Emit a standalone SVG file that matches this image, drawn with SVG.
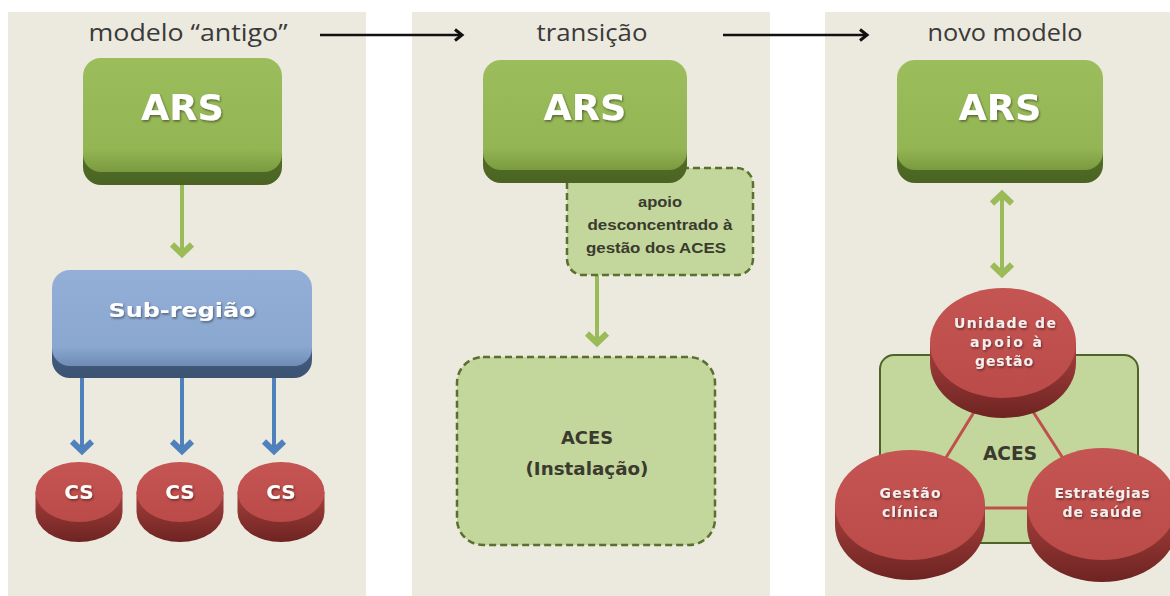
<svg xmlns="http://www.w3.org/2000/svg" width="1170" height="596" viewBox="0 0 1170 596">
<style>
  .panel{fill:#ECE9DF}
  .title{font-family:"Open Sans","Liberation Sans",sans-serif;font-size:23px;fill:#3A3A3A}
  .boxlbl{font-family:"DejaVu Sans","Liberation Sans",sans-serif;font-weight:bold;fill:#FFFFFF}
  .dark{font-family:"Liberation Sans",Arial,sans-serif;font-weight:bold;fill:#3A3A2E}
  .darkw{font-family:"DejaVu Sans","Liberation Sans",sans-serif;font-weight:bold;fill:#3A3A2E}
  .disclbl{font-family:"DejaVu Sans","Liberation Sans",sans-serif;font-weight:bold;font-size:14px;fill:#F4EEEE}
  .gArrow{stroke:#9BBB59;stroke-width:4;fill:none}
  .bArrow{stroke:#4F81BD;stroke-width:4;fill:none}
  .kArrow{stroke:#111111;stroke-width:2.5;fill:none}
  .dash{fill:#C3D69B;stroke:#5A7030;stroke-width:2.5;stroke-dasharray:7 4}
  .redface{fill:url(#gRedFace)}
  .redside{fill:url(#gRedSide)}
</style>
<defs>
  <linearGradient id="gGreenFace" x1="0" y1="0" x2="0" y2="1">
    <stop offset="0" stop-color="#9CBD5C"/>
    <stop offset="0.8" stop-color="#94B554"/>
    <stop offset="1" stop-color="#7A9A3F"/>
  </linearGradient>
  <linearGradient id="gGreenSide" x1="0" y1="0" x2="0" y2="1">
    <stop offset="0" stop-color="#6E8E38"/>
    <stop offset="1" stop-color="#4A6322"/>
  </linearGradient>
  <linearGradient id="gBlueFace" x1="0" y1="0" x2="0" y2="1">
    <stop offset="0" stop-color="#93AFD8"/>
    <stop offset="0.8" stop-color="#8AA7D0"/>
    <stop offset="1" stop-color="#6F8CB5"/>
  </linearGradient>
  <linearGradient id="gBlueSide" x1="0" y1="0" x2="0" y2="1">
    <stop offset="0" stop-color="#5C7AA2"/>
    <stop offset="1" stop-color="#3B5272"/>
  </linearGradient>
  <linearGradient id="gRedFace" x1="0" y1="0" x2="0" y2="1">
    <stop offset="0" stop-color="#C55552"/>
    <stop offset="1" stop-color="#BA4B48"/>
  </linearGradient>
  <linearGradient id="gRedSide" x1="0" y1="0" x2="0" y2="1">
    <stop offset="0" stop-color="#A6403D"/>
    <stop offset="1" stop-color="#6E2422"/>
  </linearGradient>
  <filter id="tshadow" x="-20%" y="-30%" width="140%" height="160%">
    <feDropShadow dx="1" dy="1.5" stdDeviation="0.8" flood-color="#000" flood-opacity="0.45"/>
  </filter>
  <marker id="mGreen" markerUnits="userSpaceOnUse" viewBox="-16 -16 24 32" markerWidth="24" markerHeight="32" refX="0" refY="0" orient="auto-start-reverse">
    <path d="M-9.5,-10 L0,0 L-9.5,10" fill="none" stroke="#9BBB59" stroke-width="6"/>
  </marker>
  <marker id="mBlue" markerUnits="userSpaceOnUse" viewBox="-16 -16 24 32" markerWidth="24" markerHeight="32" refX="0" refY="0" orient="auto">
    <path d="M-9.5,-10 L0,0 L-9.5,10" fill="none" stroke="#4F81BD" stroke-width="6"/>
  </marker>
  <marker id="mBlack" markerUnits="userSpaceOnUse" viewBox="-12 -10 16 20" markerWidth="16" markerHeight="20" refX="0" refY="0" orient="auto">
    <path d="M-7,-5.5 L0,0 L-7,5.5" fill="none" stroke="#111111" stroke-width="3"/>
  </marker>
</defs>

<rect width="1170" height="596" fill="#FFFFFF"/>
<g id="panels">
  <rect class="panel" x="8" y="12" width="358" height="584"/>
  <rect class="panel" x="412" y="12" width="358" height="584"/>
  <rect class="panel" x="825" y="12" width="345" height="584"/>
</g>

<g id="titles">
  <text class="title" x="188" y="41" text-anchor="middle" textLength="199" lengthAdjust="spacingAndGlyphs">modelo “antigo”</text>
  <text class="title" x="592" y="41" text-anchor="middle" textLength="111" lengthAdjust="spacingAndGlyphs">transição</text>
  <text class="title" x="1005" y="41" text-anchor="middle" textLength="155" lengthAdjust="spacingAndGlyphs">novo modelo</text>
</g>

<g id="connectors">
  <line class="kArrow" x1="320" y1="35" x2="462" y2="35" marker-end="url(#mBlack)"/>
  <line class="kArrow" x1="723" y1="35" x2="867" y2="35" marker-end="url(#mBlack)"/>
  <line class="gArrow" x1="182" y1="185" x2="182" y2="254" marker-end="url(#mGreen)"/>
  <line class="bArrow" x1="82" y1="378" x2="82" y2="451" marker-end="url(#mBlue)"/>
  <line class="bArrow" x1="182" y1="378" x2="182" y2="451" marker-end="url(#mBlue)"/>
  <line class="bArrow" x1="274" y1="378" x2="274" y2="451" marker-end="url(#mBlue)"/>
  <line class="gArrow" x1="597" y1="275" x2="597" y2="343" marker-end="url(#mGreen)"/>
  <line class="gArrow" x1="1002" y1="194" x2="1002" y2="274" marker-start="url(#mGreen)" marker-end="url(#mGreen)"/>
</g>

<!-- Panel 1 -->
<g id="ars1">
  <rect x="83" y="66" width="199" height="119" rx="18" fill="url(#gGreenSide)"/>
  <rect x="83" y="58" width="199" height="114" rx="18" fill="url(#gGreenFace)"/>
  <text class="boxlbl" x="182.5" y="120" font-size="35" text-anchor="middle" textLength="83" lengthAdjust="spacingAndGlyphs" filter="url(#tshadow)">ARS</text>
</g>
<g id="subregiao">
  <rect x="52" y="276" width="260" height="102" rx="18" fill="url(#gBlueSide)"/>
  <rect x="52" y="270" width="260" height="96" rx="18" fill="url(#gBlueFace)"/>
  <text class="boxlbl" x="182" y="317" font-size="20" text-anchor="middle" textLength="147" lengthAdjust="spacingAndGlyphs" fill="#F0F3F8" filter="url(#tshadow)">Sub-região</text>
</g>
<g id="cs1">
  <path class="redside" d="M35.5,492 L35.5,512 A43.5,30 0 0 0 122.5,512 L122.5,492 Z"/>
  <ellipse class="redface" cx="79" cy="492" rx="43.5" ry="30"/>
  <text class="boxlbl" x="79" y="499" font-size="20" text-anchor="middle" filter="url(#tshadow)">CS</text>
</g>
<g id="cs2">
  <path class="redside" d="M136.5,492 L136.5,512 A43.5,30 0 0 0 223.5,512 L223.5,492 Z"/>
  <ellipse class="redface" cx="180" cy="492" rx="43.5" ry="30"/>
  <text class="boxlbl" x="180" y="499" font-size="20" text-anchor="middle" filter="url(#tshadow)">CS</text>
</g>
<g id="cs3">
  <path class="redside" d="M237.5,492 L237.5,512 A43.5,30 0 0 0 324.5,512 L324.5,492 Z"/>
  <ellipse class="redface" cx="281" cy="492" rx="43.5" ry="30"/>
  <text class="boxlbl" x="281" y="499" font-size="20" text-anchor="middle" filter="url(#tshadow)">CS</text>
</g>

<!-- Panel 2 -->
<g id="apoio">
  <rect class="dash" x="567" y="168" width="186" height="107" rx="16"/>
  <text class="dark" x="660" y="207" font-size="14" text-anchor="middle" textLength="44" lengthAdjust="spacingAndGlyphs">apoio</text>
  <text class="dark" x="660" y="230" font-size="14" text-anchor="middle" textLength="145" lengthAdjust="spacingAndGlyphs">desconcentrado à</text>
  <text class="dark" x="656" y="253" font-size="14" text-anchor="middle" textLength="140" lengthAdjust="spacingAndGlyphs">gestão dos ACES</text>
</g>
<g id="ars2">
  <rect x="483" y="66" width="204" height="117" rx="18" fill="url(#gGreenSide)"/>
  <rect x="483" y="60" width="204" height="110" rx="18" fill="url(#gGreenFace)"/>
  <text class="boxlbl" x="585" y="120" font-size="35" text-anchor="middle" textLength="83" lengthAdjust="spacingAndGlyphs" filter="url(#tshadow)">ARS</text>
</g>
<g id="aces2">
  <rect class="dash" x="457" y="357" width="258" height="188" rx="26"/>
  <text class="darkw" x="587" y="444" font-size="18" text-anchor="middle" textLength="52" lengthAdjust="spacingAndGlyphs">ACES</text>
  <text class="darkw" x="587" y="475" font-size="18" text-anchor="middle" textLength="123" lengthAdjust="spacingAndGlyphs">(Instalação)</text>
</g>

<!-- Panel 3 -->
<g id="ars3">
  <rect x="897" y="66" width="206" height="117" rx="18" fill="url(#gGreenSide)"/>
  <rect x="897" y="60" width="206" height="110" rx="18" fill="url(#gGreenFace)"/>
  <text class="boxlbl" x="1000" y="120" font-size="35" text-anchor="middle" textLength="83" lengthAdjust="spacingAndGlyphs" filter="url(#tshadow)">ARS</text>
</g>
<g id="aces3">
  <rect x="880" y="355" width="258" height="188" rx="14" fill="#C3D69B" stroke="#4F6228" stroke-width="2"/>
  <polygon points="1003,365 915,508 1095,508" fill="none" stroke="#C0504D" stroke-width="3"/>
  <text class="darkw" x="1010" y="460" font-size="20" text-anchor="middle" textLength="54" lengthAdjust="spacingAndGlyphs">ACES</text>
</g>
<g id="unidade">
  <path class="redside" d="M930,343 L930,363 A73,55 0 0 0 1076,363 L1076,343 Z"/>
  <ellipse class="redface" cx="1003" cy="343" rx="73" ry="55"/>
  <text class="disclbl" x="1005" y="328" text-anchor="middle" textLength="102" filter="url(#tshadow)">Unidade de</text>
  <text class="disclbl" x="1006" y="347" text-anchor="middle" textLength="72" filter="url(#tshadow)">apoio à</text>
  <text class="disclbl" x="1004" y="366" text-anchor="middle" textLength="58" filter="url(#tshadow)">gestão</text>
</g>
<g id="gestaoclinica">
  <path class="redside" d="M835,505 L835,525 A75,55 0 0 0 985,525 L985,505 Z"/>
  <ellipse class="redface" cx="910" cy="505" rx="75" ry="55"/>
  <text class="disclbl" x="910" y="498" text-anchor="middle" textLength="61" filter="url(#tshadow)">Gestão</text>
  <text class="disclbl" x="910" y="517" text-anchor="middle" textLength="56" filter="url(#tshadow)">clínica</text>
</g>
<g id="estrategias">
  <path class="redside" d="M1027,504 L1027,526 A75,56 0 0 0 1177,526 L1177,504 Z"/>
  <ellipse class="redface" cx="1102" cy="504" rx="75" ry="56"/>
  <text class="disclbl" x="1102" y="498" text-anchor="middle" textLength="95" filter="url(#tshadow)">Estratégias</text>
  <text class="disclbl" x="1102" y="517" text-anchor="middle" textLength="79" filter="url(#tshadow)">de saúde</text>
</g>
</svg>
